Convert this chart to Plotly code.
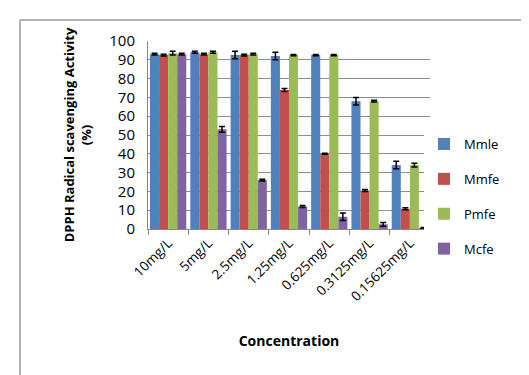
import plotly.graph_objects as go

categories = ["10mg/L", "5mg/L", "2.5mg/L", "1.25mg/L", "0.625mg/L", "0.3125mg/L", "0.15625mg/L"]
series_names = ["Mmle", "Mmfe", "Pmfe", "Mcfe"]
mmle = [93, 94, 92.5, 92, 92.5, 68, 34]
mmfe = [92.5, 93, 92.5, 74, 40, 20.5, 10.8]
pmfe = [93.5, 94, 93, 92.5, 92.5, 68, 34]
mcfe = [93, 53, 26, 12, 6.5, 2.5, 0.5]
mmle_err = [0.5, 0.5, 2, 2, 0.3, 2, 2]
mmfe_err = [0.5, 0.5, 0.5, 0.8, 0.3, 0.5, 0.5]
pmfe_err = [1, 0.5, 0.5, 0.3, 0.3, 0.5, 1]
mcfe_err = [0.5, 1.5, 0.5, 0.5, 2, 1, 0.3]
colors = ["#4F81BD", "#C0504D", "#9BBB59", "#8064A2"]

values = [mmle, mmfe, pmfe, mcfe]
errors = [mmle_err, mmfe_err, pmfe_err, mcfe_err]

fig = go.Figure()
for name, vals, errs, col in zip(series_names, values, errors, colors):
    fig.add_trace(go.Bar(
        x=categories, y=vals, name=name, legendgroup=name,
        marker=dict(color=col, line=dict(width=0)),
        error_y=dict(type="data", array=errs, visible=True, color="black", thickness=1.5, width=3),
    ))

L, R, T, B = 140, 107, 33, 154
W, H = 529, 375
pw, ph = W - L - R, H - T - B

def px(x):
    return (x - L) / pw

def py(y):
    return (H - B - y) / ph

fig.update_layout(
    width=W, height=H,
    margin=dict(l=L, r=R, t=T, b=B, autoexpand=False),
    paper_bgcolor="white", plot_bgcolor="white",
    barmode="group", bargap=0.1, bargroupgap=0,
    font=dict(family="Open Sans", color="black"),
    legend=dict(x=px(416), y=py(121), xanchor="left", yanchor="top",
                traceorder="grouped", tracegroupgap=15,
                font=dict(size=13, family="Open Sans"), itemwidth=30),
    xaxis=dict(
        tickangle=-45, tickfont=dict(size=13.5), showline=True, linecolor="#888888",
        ticks="outside", tickson="boundaries", ticklen=5, tickcolor="#888888",
        title=dict(text="<b>Concentration</b>", font=dict(size=14), standoff=32),
    ),
    yaxis=dict(
        range=[0, 100], dtick=10, tickfont=dict(size=15), showgrid=True,
        gridcolor="#8f8f8f", gridwidth=1, showline=True, linecolor="#888888",
        ticklabelstandoff=9,
        title=dict(text="<b>DPPH Radical scavenging Activity<br>(%)</b>", font=dict(size=13), standoff=14),
    ),
    shapes=[
        dict(type="line", xref="paper", yref="paper", x0=px(12), x1=px(12), y0=py(12), y1=py(380),
             line=dict(color="#9a9a9a", width=1.5)),
        dict(type="line", xref="paper", yref="paper", x0=px(12), x1=px(540), y0=py(12), y1=py(12),
             line=dict(color="#9a9a9a", width=1.5)),
    ],
)

fig.write_html("out.html")
